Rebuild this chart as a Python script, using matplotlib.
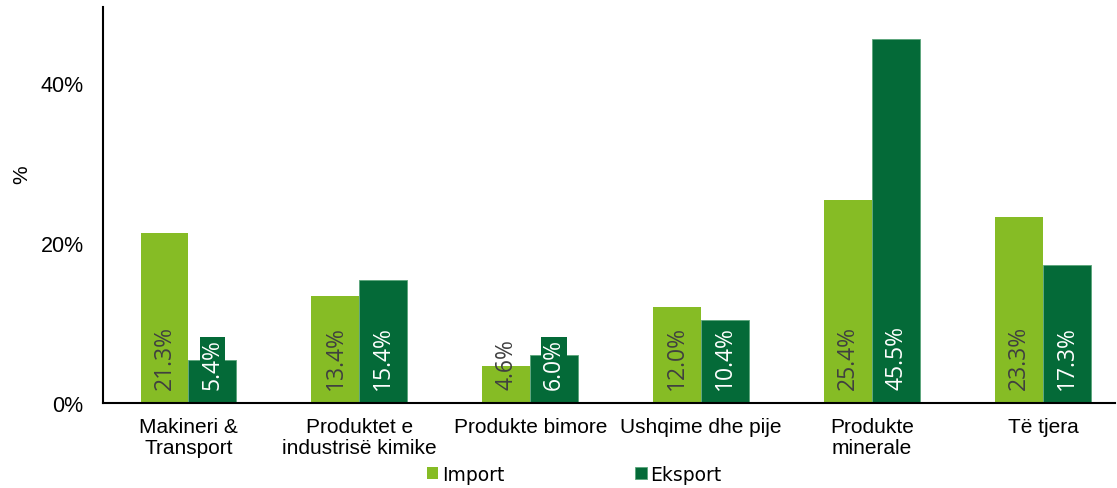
import matplotlib
matplotlib.use("Agg")
import matplotlib.pyplot as plt
import numpy as np

categories = ["Makineri &\nTransport", "Produktet e\nindustrisë kimike", "Produkte bimore",
              "Ushqime dhe pije", "Produkte\nminerale", "Të tjera"]
import_vals = [21.3, 13.4, 4.6, 12.0, 25.4, 23.3]
export_vals = [5.4, 15.4, 6.0, 10.4, 45.5, 17.3]
series_names = ["Import", "Eksport"]
yticks = [0, 20, 40]
ytick_labels = ["0%", "20%", "40%"]

c_imp = "#86BC25"
c_exp = "#046A38"

fig = plt.figure(figsize=(11.17, 4.89), dpi=100)
ax = fig.add_axes([0.0922, 0.1738, 0.9058, 0.8098])

x = np.arange(len(categories))
w = 0.28
b1 = ax.bar(x - w / 2, import_vals, w, color=c_imp, label=series_names[0])
b2 = ax.bar(x + w / 2, export_vals, w, color=c_exp, label=series_names[1],
            edgecolor="#5aa57a", linewidth=0.6)

for xi, v in zip(x, import_vals):
    ax.text(xi - w / 2, 1.8, f"{v:.1f}%", rotation=90, ha="center", va="bottom",
            color="#404040", fontsize=16.5, family="Open Sans")
for xi, v in zip(x, export_vals):
    ax.text(xi + w / 2, 1.8, f"{v:.1f}%", rotation=90, ha="center", va="bottom",
            color="white", fontsize=16.5, family="Open Sans",
            bbox=dict(boxstyle="square,pad=0.03", fc=c_exp, ec="none"))

ax.set_xlim(-0.5, 5.42)
ax.set_ylim(0, 49.5)
ax.set_yticks(yticks)
ax.set_yticklabels(ytick_labels, fontsize=15.5, family="Liberation Sans")
ax.set_xticks(x)
ax.set_xticklabels(categories, fontsize=15, family="Liberation Sans", linespacing=1.15)
ax.tick_params(axis="both", length=0, pad=10)
ax.tick_params(axis="y", pad=14)
for s in ["top", "right"]:
    ax.spines[s].set_visible(False)
for s in ["left", "bottom"]:
    ax.spines[s].set_linewidth(1.5)
    ax.spines[s].set_color("black")

ax.set_ylabel("%", fontsize=15, family="Liberation Sans")
ax.yaxis.set_label_coords(-0.071, 0.58)

fig.legend(handles=[b1, b2], labels=series_names, loc="center", bbox_to_anchor=(0.514, 0.028),
           ncol=2, frameon=False, prop=dict(family="DejaVu Sans", size=13.5),
           handlelength=0.6, handleheight=0.6, handletextpad=0.2, columnspacing=7.0)

fig.savefig("out.png", dpi=100)
